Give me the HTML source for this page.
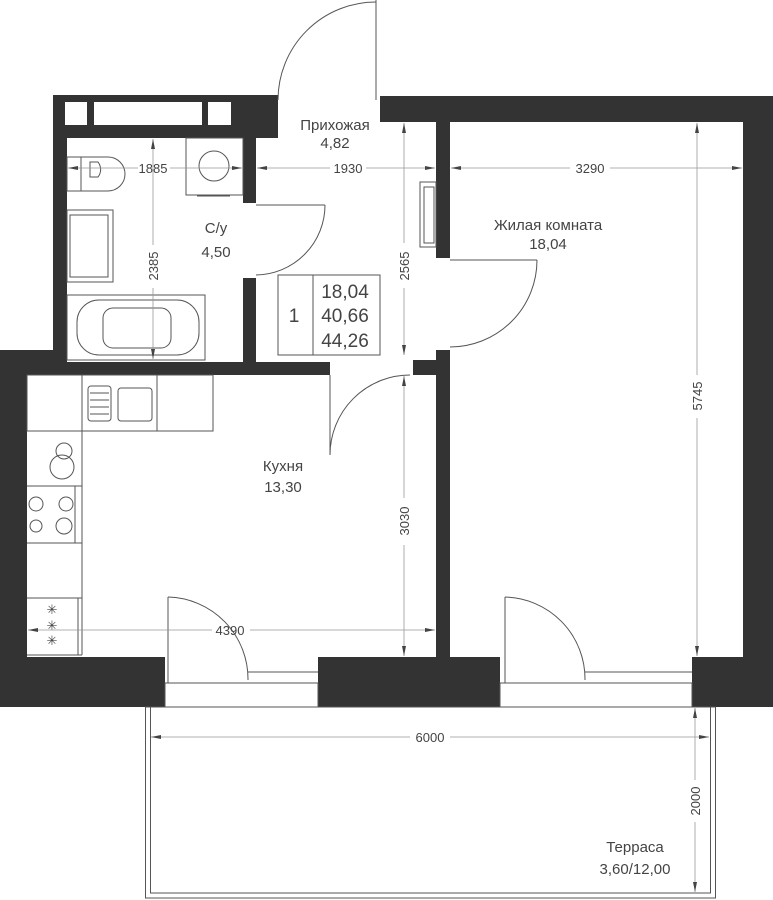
<!DOCTYPE html>
<html><head><meta charset="utf-8"><style>
html,body{margin:0;padding:0;background:#fff;}
svg{display:block;}
text{font-family:"Liberation Sans",sans-serif;fill:#444;}
</style></head><body>
<svg width="773" height="900" viewBox="0 0 773 900" xmlns="http://www.w3.org/2000/svg">
<defs>
<marker id="a" viewBox="0 0 10 6" refX="10" refY="3" markerWidth="10" markerHeight="6" orient="auto-start-reverse" markerUnits="userSpaceOnUse"><path d="M0,1 L10,3 L0,5z" fill="#444"/></marker>
</defs>
<g fill="#333">
<!-- bathroom top wall -->
<rect x="53" y="95" width="225" height="43"/>
<rect x="53" y="95" width="14" height="265"/>
<rect x="243" y="122" width="13" height="81"/>
<rect x="243" y="278" width="13" height="84"/>
<!-- kitchen left / top -->
<rect x="0" y="350" width="67" height="25"/>
<rect x="0" y="350" width="27" height="357"/>
<rect x="0" y="362" width="330" height="13"/>
<!-- top right wall -->
<rect x="380" y="96" width="393" height="26"/>
<rect x="743" y="96" width="30" height="611"/>
<!-- living left wall -->
<rect x="436" y="122" width="14" height="136"/>
<rect x="436" y="350" width="14" height="307"/>
<rect x="413" y="360" width="23" height="15"/>
<!-- bottom -->
<rect x="0" y="657" width="165" height="50"/>
<rect x="318" y="657" width="182" height="50"/>
<rect x="692" y="657" width="81" height="50"/>
</g>
<!-- windows in top bathroom wall -->
<g fill="#fff">
<rect x="65" y="102" width="22" height="23"/>
<rect x="94" y="102" width="108" height="23"/>
<rect x="208" y="102" width="23" height="23"/>
</g>
<g fill="none" stroke="#555" stroke-width="1">
<!-- bottom window frames -->
<rect x="165" y="683" width="153" height="24"/>
<rect x="500" y="683" width="192" height="24"/>
<line x1="248" y1="672" x2="318" y2="672"/><line x1="248" y1="683" x2="318" y2="683"/>
<line x1="585" y1="672" x2="692" y2="672"/>
<!-- terrace -->
<rect x="145.5" y="707" width="570" height="191"/>
<rect x="150.5" y="707" width="560" height="186"/>
<!-- doors -->
<line x1="376" y1="0" x2="376" y2="100"/>
<path d="M278,100 A98,98 0 0 1 376,2"/>
<line x1="256" y1="205" x2="325" y2="205"/>
<path d="M325,205 A70,70 0 0 1 256,275"/>
<line x1="450" y1="260" x2="537" y2="260"/>
<path d="M537,260 A87,87 0 0 1 450,347"/>
<line x1="330" y1="375" x2="330" y2="455"/>
<path d="M330,455 A80,80 0 0 1 410,375"/>
<line x1="168" y1="597" x2="168" y2="683"/>
<path d="M168,597 A82,82 0 0 1 248,680"/>
<line x1="505" y1="597" x2="505" y2="683"/>
<path d="M505,597 A82,82 0 0 1 585,680"/>
<!-- bathroom fixtures -->
<rect x="186" y="138" width="57" height="57"/>
<circle cx="214" cy="166" r="15"/>
<line x1="197" y1="196" x2="230" y2="196"/>
<rect x="67" y="157" width="14" height="34"/>
<path d="M81,157 H108 A17,17 0 0 1 108,191 H81"/>
<path d="M90,162 H98 A12,12 0 0 1 98,177 H90z"/>
<rect x="67" y="210" width="46" height="72"/>
<rect x="70" y="215" width="38" height="62"/>
<rect x="67" y="295" width="138" height="65"/>
<rect x="77" y="300" width="122" height="55" rx="22"/>
<rect x="103" y="308" width="68" height="40" rx="10"/>
<!-- hall wardrobe -->
<rect x="420" y="182" width="16" height="65"/>
<rect x="424" y="187" width="10" height="56"/>
<!-- table -->
<rect x="278" y="275" width="102" height="80"/>
<line x1="313" y1="275" x2="313" y2="355"/>
<!-- kitchen -->
<rect x="27" y="375" width="186" height="56"/>
<line x1="82" y1="375" x2="82" y2="655"/>
<line x1="157" y1="375" x2="157" y2="431"/>
<line x1="27" y1="486" x2="82" y2="486"/>
<line x1="27" y1="543" x2="82" y2="543"/>
<line x1="27" y1="598" x2="82" y2="598"/>
<line x1="27" y1="655" x2="82" y2="655"/>
<line x1="75" y1="486" x2="75" y2="543"/>
<line x1="78" y1="598" x2="78" y2="655"/>
<rect x="88" y="386" width="23" height="35" rx="3"/>
<rect x="118" y="388" width="34" height="33" rx="3"/>
<circle cx="62" cy="467" r="12"/><circle cx="64" cy="451" r="8"/>
<circle cx="36" cy="504" r="7"/><circle cx="66" cy="504" r="7"/>
<circle cx="36" cy="526" r="6"/><circle cx="64" cy="526" r="8"/>
</g>
<g stroke="#555" stroke-width="1">
<line x1="90" y1="393" x2="109" y2="393"/><line x1="90" y1="400" x2="109" y2="400"/><line x1="90" y1="407" x2="109" y2="407"/><line x1="90" y1="414" x2="109" y2="414"/>
</g>
<g font-size="13" fill="#444" text-anchor="middle"><text x="52" y="614">✳</text><text x="52" y="630">✳</text><text x="52" y="645">✳</text></g>
<!-- dimension lines -->
<g stroke="#999" stroke-width="0.8" fill="none">
<line x1="68" y1="168" x2="138" y2="168" marker-start="url(#a)"/>
<line x1="170" y1="168" x2="242" y2="168" marker-end="url(#a)"/>
<line x1="257" y1="168" x2="330" y2="168" marker-start="url(#a)"/>
<line x1="366" y1="168" x2="435" y2="168" marker-end="url(#a)"/>
<line x1="451" y1="168" x2="570" y2="168" marker-start="url(#a)"/>
<line x1="610" y1="168" x2="742" y2="168" marker-end="url(#a)"/>
<line x1="153" y1="139" x2="153" y2="245" marker-start="url(#a)"/>
<line x1="153" y1="288" x2="153" y2="359" marker-end="url(#a)"/>
<line x1="404" y1="123" x2="404" y2="243" marker-start="url(#a)"/>
<line x1="404" y1="288" x2="404" y2="355" marker-end="url(#a)"/>
<line x1="404" y1="376" x2="404" y2="498" marker-start="url(#a)"/>
<line x1="404" y1="545" x2="404" y2="656" marker-end="url(#a)"/>
<line x1="697" y1="123" x2="697" y2="375" marker-start="url(#a)"/>
<line x1="697" y1="418" x2="697" y2="656" marker-end="url(#a)"/>
<line x1="28" y1="630" x2="212" y2="630" marker-start="url(#a)"/>
<line x1="250" y1="630" x2="435" y2="630" marker-end="url(#a)"/>
<line x1="151" y1="737" x2="410" y2="737" marker-start="url(#a)"/>
<line x1="450" y1="737" x2="709" y2="737" marker-end="url(#a)"/>
<line x1="695" y1="708" x2="695" y2="780" marker-start="url(#a)"/>
<line x1="695" y1="822" x2="695" y2="892" marker-end="url(#a)"/>
</g>
<g font-size="13" text-anchor="middle">
<text x="153" y="173">1885</text>
<text x="348" y="173">1930</text>
<text x="590" y="173">3290</text>
<text x="230" y="635">4390</text>
<text x="430" y="742">6000</text>
<text transform="translate(158,266) rotate(-90)">2385</text>
<text transform="translate(409,266) rotate(-90)">2565</text>
<text transform="translate(409,521) rotate(-90)">3030</text>
<text transform="translate(702,396) rotate(-90)">5745</text>
<text transform="translate(700,801) rotate(-90)">2000</text>
</g>
<g font-size="15" text-anchor="middle">
<text x="335" y="130">Прихожая</text><text x="335" y="148">4,82</text>
<text x="216" y="233">С/у</text><text x="216" y="257">4,50</text>
<text x="548" y="230">Жилая комната</text><text x="548" y="249">18,04</text>
<text x="283" y="471">Кухня</text><text x="283" y="492">13,30</text>
<text x="635" y="852">Терраса</text><text x="635" y="874">3,60/12,00</text>
</g>
<g font-size="19" text-anchor="middle">
<text x="294" y="322">1</text>
<text x="345" y="298">18,04</text>
<text x="345" y="322">40,66</text>
<text x="345" y="347">44,26</text>
</g>
</svg>
</body></html>
